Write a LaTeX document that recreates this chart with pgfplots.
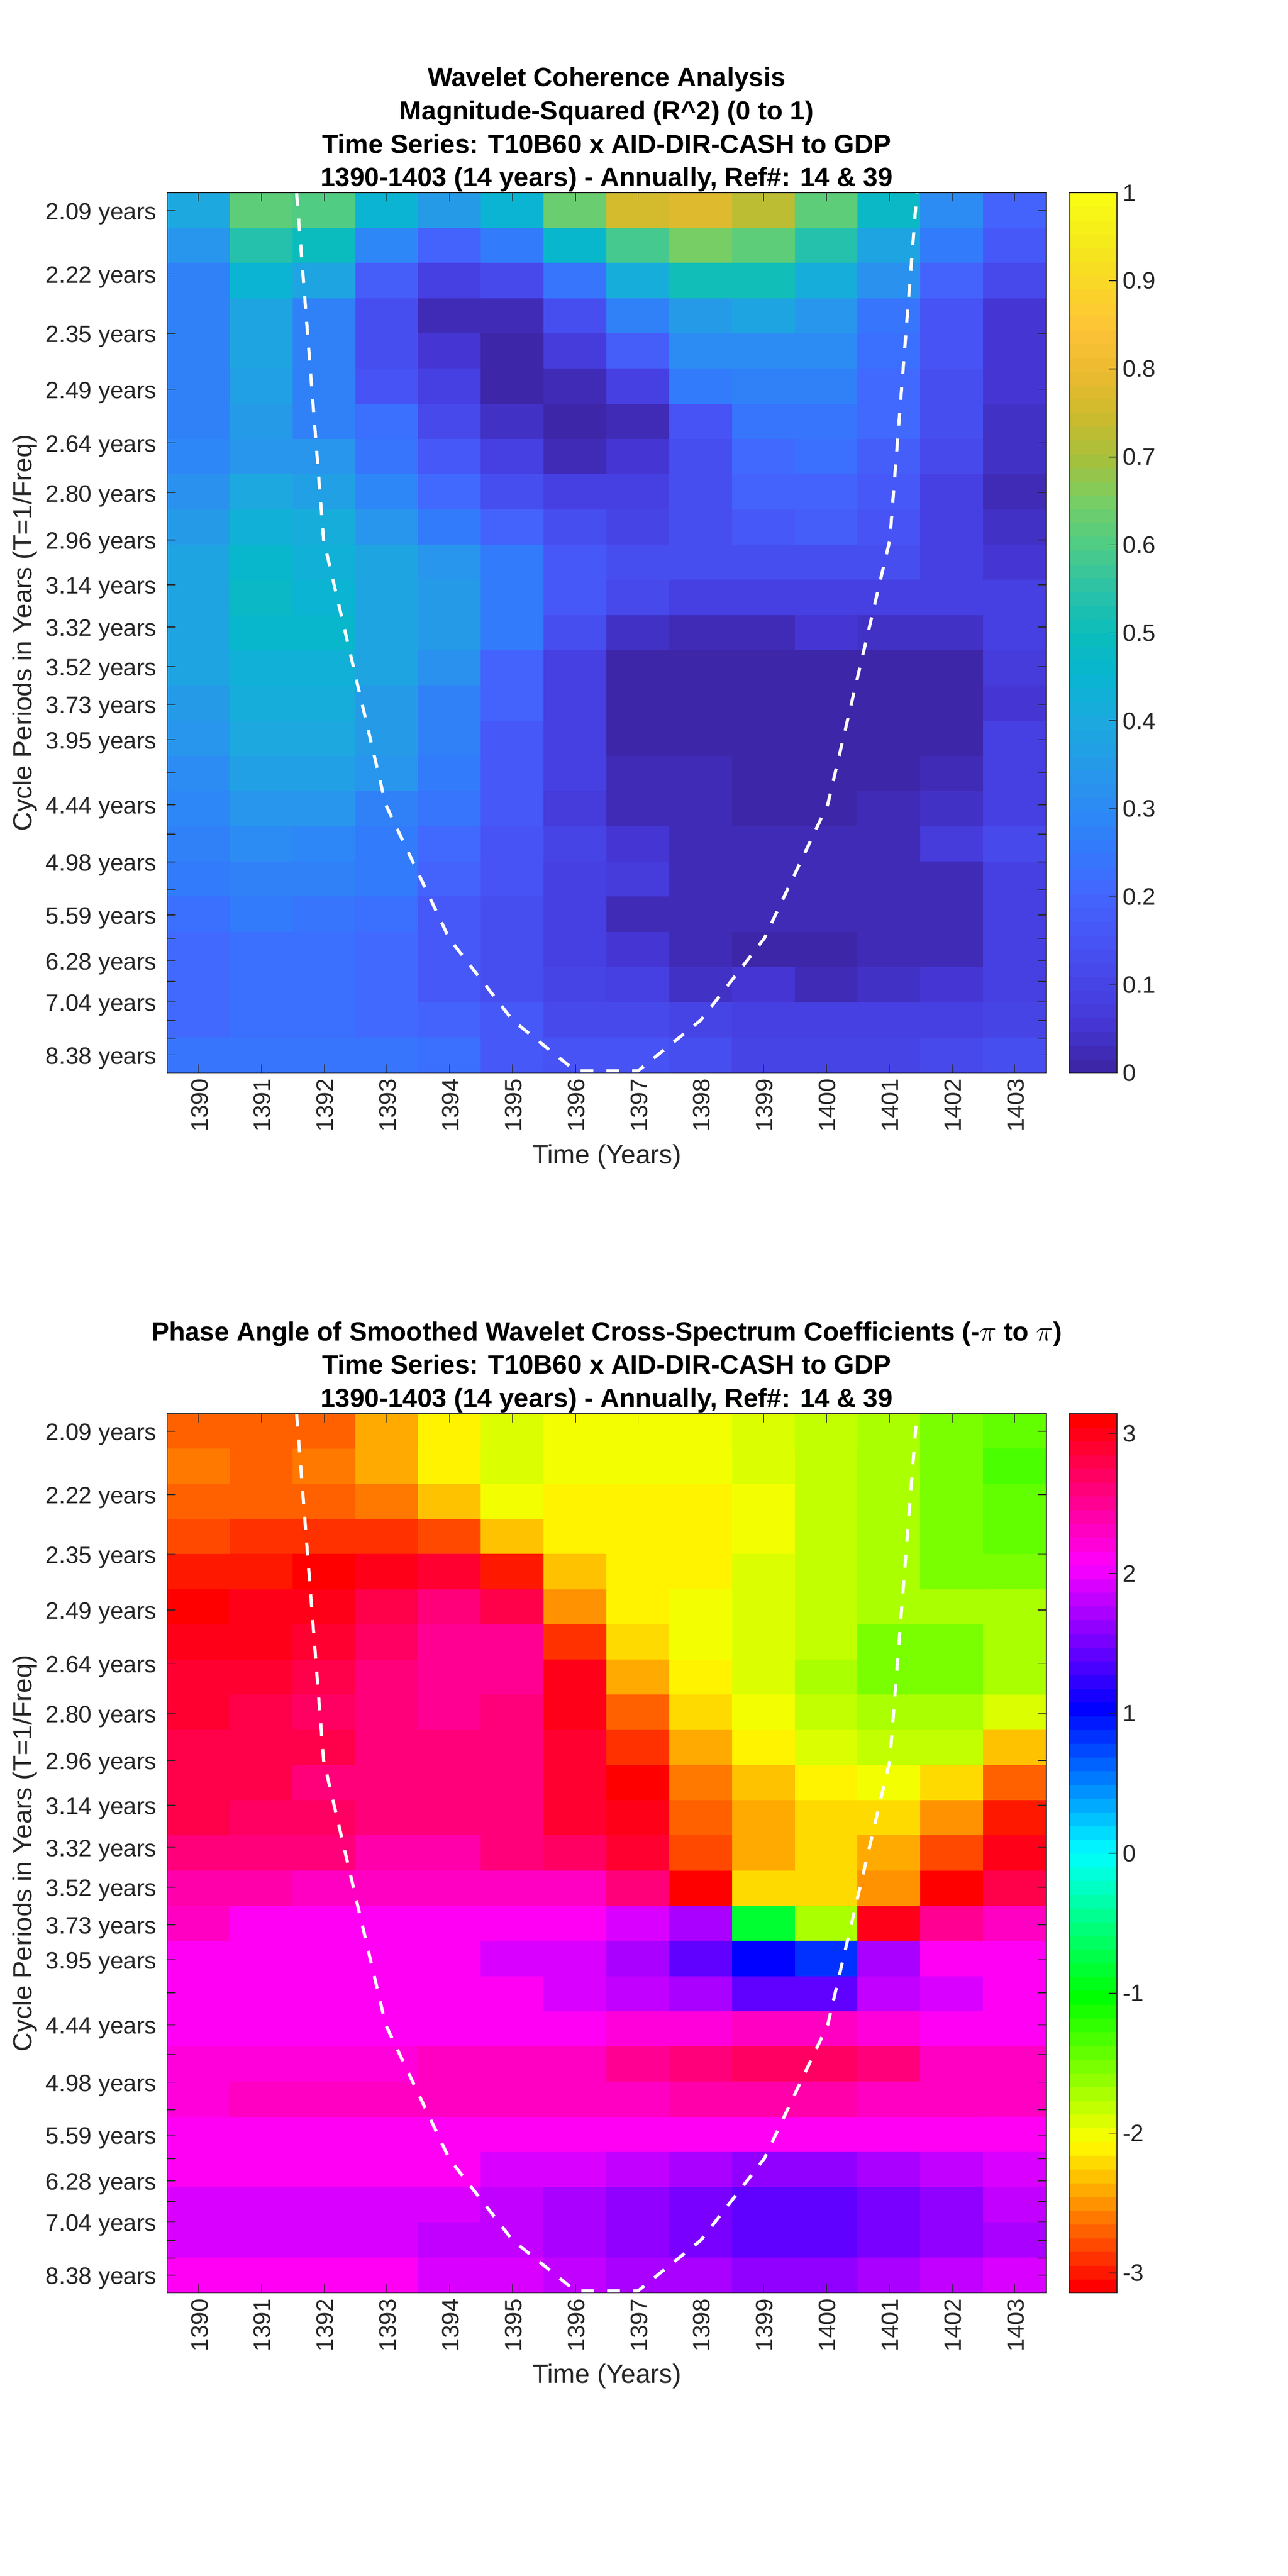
\documentclass[border=0pt]{standalone}
\usepackage{fontspec}
\setmainfont{Liberation Sans}
\usepackage{pgfplots}
\pgfplotsset{compat=1.18}
\definecolor{axgrey}{RGB}{38,38,38}
\pgfplotsset{
  colormap={parulabase}{
    rgb255=(62,38,168) rgb255=(69,55,214) rgb255=(71,69,232) rgb255=(71,85,246)
    rgb255=(67,102,253) rgb255=(50,122,252) rgb255=(45,140,243) rgb255=(37,155,232)
    rgb255=(28,170,223) rgb255=(8,181,208) rgb255=(12,189,187) rgb255=(43,194,168)
    rgb255=(78,204,133) rgb255=(118,206,102) rgb255=(165,193,60) rgb255=(205,187,45)
    rgb255=(235,186,48) rgb255=(254,195,55) rgb255=(250,214,40) rgb255=(245,234,27)
    rgb255=(249,251,20)},
  colormap={hsvbase}{
    rgb=(1,0,0) rgb=(1,1,0) rgb=(0,1,0) rgb=(0,1,1) rgb=(0,0,1) rgb=(1,0,1) rgb=(1,0,0)},
  colormap={parulaish}{samples of colormap={64 of parulabase}},
  colormap={hsvphase}{samples of colormap={64 of hsvbase}},
  wavelet/.style={
    scale only axis, width=533.25pt,
    axis on top,
    colormap access=piecewise constant,
    xmin=1389.5, xmax=1403.5, ymin=0.5, ymax=25.5, y dir=reverse,
    xtick={1390,1391,1392,1393,1394,1395,1396,1397,1398,1399,1400,1401,1402,1403},
    xticklabels={1390,1391,1392,1393,1394,1395,1396,1397,1398,1399,1400,1401,1402,1403},
    ytick={1.00,2.80,4.49,6.08,7.60,9.02,10.36,11.63,12.83,13.96,15.03,16.03,16.97,17.88,18.72,19.51,20.29,21.01,21.68,22.31,22.90,23.48,24.01,24.51,24.99},
    yticklabels={2.09 years,2.22 years,2.35 years,2.49 years,2.64 years,2.80 years,2.96 years,3.14 years,3.32 years,3.52 years,3.73 years,3.95 years,{},4.44 years,{},4.98 years,{},5.59 years,{},6.28 years,{},7.04 years,{},{},8.38 years},
    tick align=inside, major tick length=5.2pt,
    tick style={color=axgrey,line width=0.5pt},
    axis line style={color=axgrey,line width=0.5pt},
    tick label style={font=\fontsize{14.4}{16}\selectfont,text=axgrey},
    xticklabel style={rotate=90,anchor=east,xshift=0pt,yshift=-0.5pt},
    yticklabel style={xshift=-3pt,yshift=-2pt},
    every axis x label/.style={at={(axis description cs:0.5,-0.095)},anchor=center,font=\fontsize{16}{19}\selectfont,text=axgrey},
    every axis y label/.style={at={(axis description cs:-0.162,0.5)},rotate=90,anchor=center,font=\fontsize{16}{19}\selectfont,text=axgrey},
    every axis title/.style={at={(axis description cs:0.5,1)},anchor=south,align=center,yshift=-3pt,font=\fontsize{16}{20.25}\selectfont\bfseries,text=black},
    xlabel={Time (Years)},
    ylabel={Cycle Periods in Years (T=1/Freq)},
  },
  cbaraxis/.style={
    scale only axis, width=29pt,
    axis on top,
    colormap access=piecewise constant,
    xmin=0, xmax=1, xtick=\empty,
    tick align=inside, major tick length=5.2pt,
    ytick pos=right, yticklabel pos=right,
    tick style={color=axgrey,line width=0.5pt},
    axis line style={color=axgrey,line width=0.5pt},
    tick label style={font=\fontsize{14.4}{16}\selectfont,text=axgrey},
  },
  cells/.style={matrix plot*, mesh/cols=14, mesh/rows=25, point meta=explicit},
  keycells/.style={matrix plot*, mesh/cols=2, mesh/rows=64, point meta=y},
  coi/.style={sharp plot, white, line width=1.9pt, dash pattern=on 7.8pt off 7.9pt, forget plot, mesh/check=false},
  table/gridtable/.style={header=false, row sep=\\, x expr={1390+mod(\coordindex,14)}, y expr={1+floor((\coordindex+0.5)/14)}, meta index=0},
  table/keytable/.style={header=false, row sep=\\, x expr={mod(\coordindex,2)}, y index=0},
}
\begin{document}
\begin{tikzpicture}
\path[use as bounding box] (0,0) rectangle (781.25pt,1563pt);
\begin{axis}[wavelet, at={(101.5pt,912pt)}, anchor=south west, height=534pt,
  colormap name=parulaish, point meta min=0, point meta max=1,
  title={Wavelet Coherence Analysis\\Magnitude-Squared (R\^{}2) (0 to 1)\\Time Series: T10B60 x AID-DIR-CASH to GDP\\1390-1403 (14 years) - Annually, Ref\#: 14 \& 39},
]
\addplot[cells] table[gridtable] {
0.40\\0.61\\0.60\\0.45\\0.35\\0.45\\0.63\\0.75\\0.78\\0.72\\0.61\\0.47\\0.30\\0.20\\
0.33\\0.54\\0.49\\0.29\\0.20\\0.25\\0.46\\0.58\\0.65\\0.61\\0.54\\0.39\\0.25\\0.16\\
0.28\\0.45\\0.38\\0.18\\0.09\\0.11\\0.24\\0.41\\0.50\\0.50\\0.41\\0.32\\0.20\\0.11\\
0.27\\0.39\\0.28\\0.13\\0.03\\0.03\\0.13\\0.28\\0.35\\0.38\\0.34\\0.24\\0.15\\0.06\\
0.27\\0.38\\0.27\\0.14\\0.05\\0.01\\0.07\\0.18\\0.30\\0.31\\0.30\\0.22\\0.15\\0.06\\
0.27\\0.37\\0.27\\0.15\\0.08\\0.01\\0.02\\0.09\\0.26\\0.28\\0.27\\0.21\\0.14\\0.06\\
0.27\\0.35\\0.27\\0.22\\0.11\\0.04\\0.01\\0.02\\0.15\\0.24\\0.24\\0.21\\0.14\\0.04\\
0.29\\0.34\\0.33\\0.24\\0.16\\0.08\\0.02\\0.05\\0.14\\0.21\\0.22\\0.18\\0.11\\0.04\\
0.32\\0.40\\0.36\\0.29\\0.21\\0.14\\0.08\\0.08\\0.13\\0.19\\0.20\\0.16\\0.09\\0.03\\
0.35\\0.43\\0.42\\0.33\\0.26\\0.19\\0.13\\0.10\\0.14\\0.17\\0.18\\0.15\\0.09\\0.04\\
0.39\\0.46\\0.43\\0.38\\0.33\\0.26\\0.16\\0.13\\0.13\\0.14\\0.14\\0.14\\0.08\\0.06\\
0.39\\0.47\\0.45\\0.39\\0.35\\0.26\\0.16\\0.12\\0.09\\0.08\\0.09\\0.09\\0.08\\0.09\\
0.39\\0.46\\0.46\\0.39\\0.35\\0.26\\0.13\\0.04\\0.02\\0.03\\0.05\\0.04\\0.04\\0.09\\
0.38\\0.43\\0.43\\0.38\\0.32\\0.19\\0.09\\0.01\\0.00\\0.00\\0.01\\0.01\\0.01\\0.07\\
0.35\\0.41\\0.41\\0.35\\0.28\\0.19\\0.08\\0.01\\0.00\\0.00\\0.00\\0.00\\0.01\\0.06\\
0.33\\0.40\\0.40\\0.35\\0.27\\0.17\\0.09\\0.01\\0.00\\0.00\\0.00\\0.00\\0.01\\0.08\\
0.31\\0.37\\0.36\\0.33\\0.25\\0.17\\0.08\\0.02\\0.02\\0.00\\0.00\\0.00\\0.03\\0.08\\
0.29\\0.34\\0.33\\0.28\\0.24\\0.16\\0.07\\0.03\\0.02\\0.00\\0.00\\0.02\\0.04\\0.09\\
0.27\\0.30\\0.29\\0.26\\0.21\\0.15\\0.10\\0.06\\0.03\\0.02\\0.02\\0.03\\0.07\\0.12\\
0.26\\0.27\\0.27\\0.25\\0.19\\0.15\\0.09\\0.07\\0.03\\0.02\\0.02\\0.03\\0.03\\0.09\\
0.23\\0.26\\0.24\\0.23\\0.17\\0.14\\0.09\\0.03\\0.03\\0.02\\0.02\\0.03\\0.03\\0.09\\
0.21\\0.22\\0.22\\0.21\\0.16\\0.13\\0.08\\0.05\\0.03\\0.01\\0.01\\0.03\\0.03\\0.09\\
0.21\\0.22\\0.22\\0.21\\0.17\\0.13\\0.10\\0.08\\0.04\\0.05\\0.03\\0.04\\0.06\\0.09\\
0.21\\0.22\\0.22\\0.21\\0.19\\0.16\\0.12\\0.11\\0.10\\0.08\\0.08\\0.08\\0.09\\0.10\\
0.24\\0.24\\0.24\\0.24\\0.22\\0.17\\0.15\\0.15\\0.13\\0.10\\0.10\\0.10\\0.11\\0.13\\
};
\addplot[coi] coordinates {(1391.56,0.5)(1391.99,10.36)(1392.98,17.88)(1393.99,21.68)(1395,24.0)(1396,25.44)(1397,25.44)(1398,24.0)(1399.01,21.68)(1400.02,17.88)(1401.01,10.36)(1401.44,0.5)};
\end{axis}
\begin{axis}[cbaraxis, at={(648.75pt,912pt)}, anchor=south west, height=534pt,
  colormap name=parulaish, point meta min=0, point meta max=1, ymin=0, ymax=1,
  ytick={0,0.1,0.2,0.3,0.4,0.5,0.6,0.7,0.8,0.9,1},
  yticklabels={0,0.1,0.2,0.3,0.4,0.5,0.6,0.7,0.8,0.9,1},
]
\addplot[keycells] table[keytable] {
.008\\.008\\.023\\.023\\.039\\.039\\.055\\.055\\.070\\.070\\.086\\.086\\.102\\.102\\.117\\.117\\
.133\\.133\\.148\\.148\\.164\\.164\\.180\\.180\\.195\\.195\\.211\\.211\\.227\\.227\\.242\\.242\\
.258\\.258\\.273\\.273\\.289\\.289\\.305\\.305\\.320\\.320\\.336\\.336\\.352\\.352\\.367\\.367\\
.383\\.383\\.398\\.398\\.414\\.414\\.430\\.430\\.445\\.445\\.461\\.461\\.477\\.477\\.492\\.492\\
.508\\.508\\.523\\.523\\.539\\.539\\.555\\.555\\.570\\.570\\.586\\.586\\.602\\.602\\.617\\.617\\
.633\\.633\\.648\\.648\\.664\\.664\\.680\\.680\\.695\\.695\\.711\\.711\\.727\\.727\\.742\\.742\\
.758\\.758\\.773\\.773\\.789\\.789\\.805\\.805\\.820\\.820\\.836\\.836\\.852\\.852\\.867\\.867\\
.883\\.883\\.898\\.898\\.914\\.914\\.930\\.930\\.945\\.945\\.961\\.961\\.977\\.977\\.992\\.992\\
};
\end{axis}
\begin{axis}[wavelet, at={(101.5pt,171.75pt)}, anchor=south west, height=533.5pt,
  colormap name=hsvphase, point meta min=-3.14159, point meta max=3.14159,
  title={Phase Angle of Smoothed Wavelet Cross-Spectrum Coefficients (-$\pi$ to $\pi$)\\Time Series: T10B60 x AID-DIR-CASH to GDP\\1390-1403 (14 years) - Annually, Ref\#: 14 \& 39},
]
\addplot[cells] table[gridtable] {
-2.71\\-2.71\\-2.71\\-2.44\\-2.15\\-1.91\\-2.01\\-2.01\\-2.01\\-1.91\\-1.82\\-1.75\\-1.57\\-1.46\\
-2.64\\-2.71\\-2.64\\-2.44\\-2.15\\-1.91\\-2.01\\-2.01\\-2.01\\-1.91\\-1.82\\-1.75\\-1.57\\-1.36\\
-2.71\\-2.71\\-2.71\\-2.64\\-2.31\\-2.01\\-2.15\\-2.15\\-2.15\\-2.01\\-1.82\\-1.75\\-1.57\\-1.46\\
-2.83\\-2.93\\-2.93\\-2.93\\-2.83\\-2.31\\-2.15\\-2.15\\-2.15\\-2.01\\-1.82\\-1.75\\-1.57\\-1.46\\
-3.04\\-3.04\\-3.14\\3.04\\2.90\\-3.04\\-2.31\\-2.15\\-2.15\\-1.91\\-1.82\\-1.75\\-1.57\\-1.57\\
-3.14\\3.04\\2.97\\2.77\\2.60\\2.77\\-2.55\\-2.15\\-2.01\\-1.91\\-1.82\\-1.75\\-1.67\\-1.67\\
3.04\\2.97\\2.93\\2.70\\2.47\\2.47\\-2.93\\-2.21\\-2.01\\-1.91\\-1.82\\-1.57\\-1.57\\-1.67\\
2.93\\2.90\\2.83\\2.63\\2.53\\2.53\\3.04\\-2.44\\-2.15\\-1.91\\-1.75\\-1.57\\-1.57\\-1.67\\
2.90\\2.80\\2.73\\2.63\\2.55\\2.60\\2.97\\-2.71\\-2.21\\-2.01\\-1.82\\-1.67\\-1.67\\-1.91\\
2.83\\2.83\\2.77\\2.63\\2.63\\2.63\\2.93\\-2.93\\-2.44\\-2.15\\-1.91\\-1.82\\-1.82\\-2.31\\
2.77\\2.77\\2.60\\2.60\\2.60\\2.60\\2.85\\-3.14\\-2.64\\-2.31\\-2.15\\-2.01\\-2.21\\-2.71\\
2.83\\2.73\\2.73\\2.60\\2.60\\2.60\\2.90\\3.04\\-2.73\\-2.44\\-2.21\\-2.21\\-2.55\\-3.04\\
2.60\\2.60\\2.60\\2.43\\2.43\\2.57\\2.73\\2.90\\-2.83\\-2.44\\-2.21\\-2.44\\-2.83\\3.04\\
2.43\\2.43\\2.27\\2.27\\2.27\\2.27\\2.27\\2.57\\-3.14\\-2.21\\-2.21\\-2.55\\-3.14\\2.77\\
2.27\\2.09\\2.09\\2.09\\2.09\\2.09\\2.09\\1.91\\1.76\\-0.80\\-1.75\\3.04\\2.53\\2.32\\
2.09\\2.09\\2.09\\2.09\\2.09\\1.95\\1.95\\1.76\\1.46\\1.00\\0.84\\1.76\\2.09\\2.09\\
2.09\\2.09\\2.09\\2.09\\2.09\\2.09\\1.93\\1.82\\1.74\\1.46\\1.46\\1.82\\1.95\\2.09\\
2.12\\2.12\\2.12\\2.12\\2.12\\2.12\\2.12\\2.22\\2.22\\2.30\\2.30\\2.20\\2.15\\2.15\\
2.24\\2.24\\2.24\\2.24\\2.32\\2.32\\2.32\\2.53\\2.60\\2.70\\2.70\\2.60\\2.32\\2.32\\
2.20\\2.30\\2.30\\2.30\\2.30\\2.30\\2.32\\2.32\\2.43\\2.43\\2.43\\2.32\\2.30\\2.30\\
2.12\\2.12\\2.12\\2.12\\2.12\\2.12\\2.12\\2.12\\2.12\\2.12\\2.12\\2.12\\2.12\\2.12\\
2.09\\2.09\\2.09\\2.09\\2.09\\1.93\\1.93\\1.82\\1.74\\1.66\\1.66\\1.72\\1.82\\1.93\\
1.91\\1.91\\1.91\\1.91\\1.91\\1.82\\1.70\\1.63\\1.50\\1.46\\1.46\\1.55\\1.66\\1.85\\
1.89\\1.89\\1.89\\1.89\\1.80\\1.80\\1.68\\1.63\\1.50\\1.46\\1.46\\1.55\\1.66\\1.76\\
2.09\\2.09\\2.09\\2.09\\1.89\\1.89\\1.82\\1.74\\1.72\\1.66\\1.66\\1.76\\1.82\\1.91\\
};
\addplot[coi] coordinates {(1391.56,0.5)(1391.99,10.36)(1392.98,17.88)(1393.99,21.68)(1395,24.0)(1396,25.44)(1397,25.44)(1398,24.0)(1399.01,21.68)(1400.02,17.88)(1401.01,10.36)(1401.44,0.5)};
\end{axis}
\begin{axis}[cbaraxis, at={(648.75pt,171.75pt)}, anchor=south west, height=533.5pt,
  colormap name=hsvphase, point meta min=-3.14159, point meta max=3.14159, ymin=-3.14159, ymax=3.14159,
  ytick={-3,-2,-1,0,1,2,3},
  yticklabels={-3,-2,-1,0,1,2,3},
]
\addplot[keycells] table[keytable] {
-3.093\\-3.093\\-2.994\\-2.994\\-2.896\\-2.896\\-2.798\\-2.798\\-2.700\\-2.700\\-2.601\\-2.601\\-2.503\\-2.503\\-2.405\\-2.405\\
-2.307\\-2.307\\-2.209\\-2.209\\-2.110\\-2.110\\-2.012\\-2.012\\-1.914\\-1.914\\-1.816\\-1.816\\-1.718\\-1.718\\-1.620\\-1.620\\
-1.521\\-1.521\\-1.423\\-1.423\\-1.325\\-1.325\\-1.227\\-1.227\\-1.129\\-1.129\\-1.031\\-1.031\\-0.932\\-0.932\\-0.834\\-0.834\\
-0.736\\-0.736\\-0.638\\-0.638\\-0.540\\-0.540\\-0.442\\-0.442\\-0.344\\-0.344\\-0.245\\-0.245\\-0.147\\-0.147\\-0.049\\-0.049\\
0.049\\0.049\\0.147\\0.147\\0.245\\0.245\\0.344\\0.344\\0.442\\0.442\\0.540\\0.540\\0.638\\0.638\\0.736\\0.736\\
0.834\\0.834\\0.932\\0.932\\1.031\\1.031\\1.129\\1.129\\1.227\\1.227\\1.325\\1.325\\1.423\\1.423\\1.521\\1.521\\
1.620\\1.620\\1.718\\1.718\\1.816\\1.816\\1.914\\1.914\\2.012\\2.012\\2.110\\2.110\\2.209\\2.209\\2.307\\2.307\\
2.405\\2.405\\2.503\\2.503\\2.601\\2.601\\2.700\\2.700\\2.798\\2.798\\2.896\\2.896\\2.994\\2.994\\3.093\\3.093\\
};
\end{axis}
\end{tikzpicture}
\end{document}
